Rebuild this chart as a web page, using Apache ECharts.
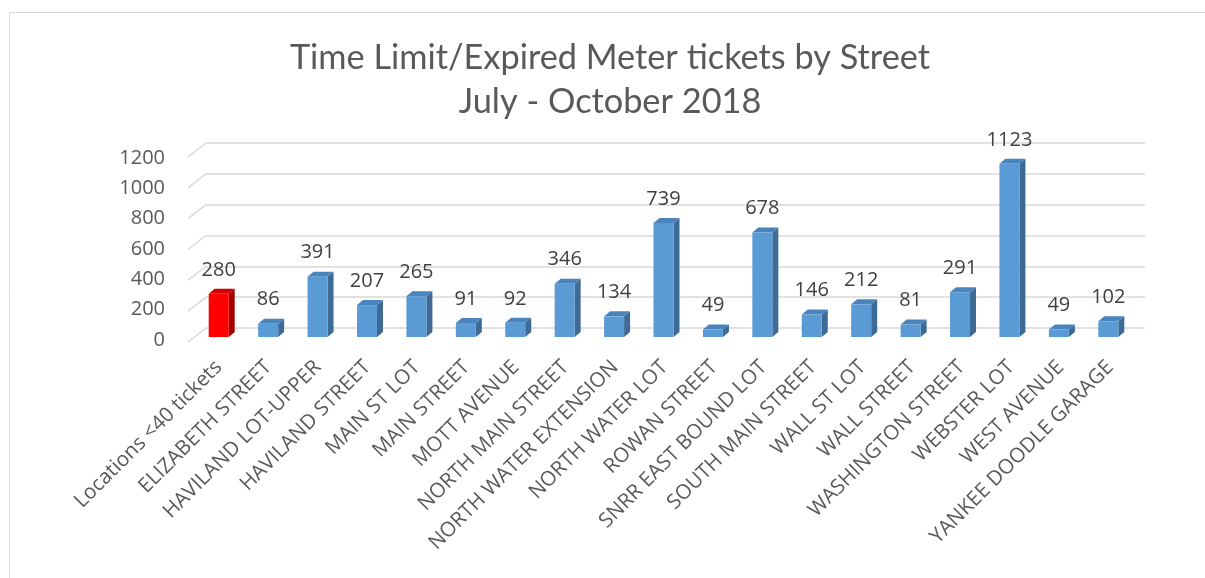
<!DOCTYPE html>
<html>
<head>
<meta charset="utf-8">
<script src="https://cdn.jsdelivr.net/npm/echarts@6/dist/echarts.min.js"></script>
<style>
  html, body { margin: 0; padding: 0; background: #fff; }
  #chart { width: 1205px; height: 578px; }
</style>
</head>
<body>
<div id="chart"></div>
<script>
const streets = [
    'Locations <40 tickets', 'ELIZABETH STREET', 'HAVILAND LOT-UPPER', 'HAVILAND STREET',
    'MAIN ST LOT', 'MAIN STREET', 'MOTT AVENUE', 'NORTH MAIN STREET',
    'NORTH WATER EXTENSION', 'NORTH WATER LOT', 'ROWAN STREET', 'SNRR EAST BOUND LOT',
    'SOUTH MAIN STREET', 'WALL ST LOT', 'WALL STREET', 'WASHINGTON STREET',
    'WEBSTER LOT', 'WEST AVENUE', 'YANKEE DOODLE GARAGE'
];
const tickets = [280, 86, 391, 207, 265, 91, 92, 346, 134, 739, 49, 678, 146, 212, 81, 291, 1123, 49, 102];
const yTicks = [0, 200, 400, 600, 800, 1000, 1200];

const titleFont = 'Lato, "Open Sans", sans-serif';
const font = '"Open Sans", sans-serif';
const textColor = '#595959';

// colours for front / side / top faces
const blue = ['#5b9bd5', '#3d6b96', '#4a84bd'];
const red = ['#ff0000', '#a50000', '#d00000'];

// fake 3d: front face is pushed forward/left from the back wall
const offX = -12, offY = 9, depthX = 6, depthY = 5, barW = 20;

function renderBar(params, api) {
    let i = api.value(0);
    let v = api.value(1);
    let top = api.coord([i, v]);
    let base = api.coord([i, 0]);
    let cx = top[0] + offX;
    let yt = top[1] + offY;
    let yb = base[1] + offY;
    let xl = cx - barW / 2, xr = cx + barW / 2;
    let c = i === 0 ? red : blue;
    return {
        type: 'group',
        children: [
            { type: 'polygon', shape: { points: [[xr, yt], [xr, yb], [xr + depthX, yb - depthY], [xr + depthX, yt - depthY]] }, style: { fill: c[1] } },
            { type: 'polygon', shape: { points: [[xl, yt], [xr, yt], [xr + depthX, yt - depthY], [xl + depthX, yt - depthY]] }, style: { fill: c[2] } },
            { type: 'rect', shape: { x: xl, y: yt, width: barW, height: yb - yt }, style: { fill: c[0] } },
            { type: 'text', x: cx, y: yt - 24, style: { text: String(v), fill: '#404040', font: '20px ' + font, align: 'center', verticalAlign: 'middle' } }
        ]
    };
}

function renderStub(params, api) {
    let y = api.coord([0, api.value(0)])[1];
    let x0 = params.coordSys.x;
    return { type: 'line', shape: { x1: x0 - 18, y1: y + 14, x2: x0, y2: y }, style: { stroke: '#d9d9d9', lineWidth: 1.5 } };
}

const chart = echarts.init(document.getElementById('chart'));
chart.setOption({
    animation: false,
    backgroundColor: '#fff',
    title: {
        text: 'Time Limit/Expired Meter tickets by Street\nJuly - October 2018',
        left: 610, top: 36, padding: 0, textAlign: 'center',
        textStyle: { fontFamily: titleFont, fontSize: 34.3, fontWeight: 'normal', color: textColor, lineHeight: 44 }
    },
    graphic: [{ type: 'rect', left: 7, top: 10, shape: { width: 1400, height: 800 }, style: { fill: 'none', stroke: '#d9d9d9', lineWidth: 1 }, z: -1 }],
    grid: [
        { left: 206, right: 60, top: 143, bottom: 250 },
        { left: 194, right: 70, top: 158, bottom: 238 }
    ],
    xAxis: [
        { type: 'category', gridIndex: 0, data: streets, show: false },
        {
            type: 'category', gridIndex: 1, data: streets,
            axisLine: { show: false }, axisTick: { show: false },
            axisLabel: { rotate: 45, interval: 0, margin: 24, color: textColor, fontFamily: font, fontSize: 20.5 }
        }
    ],
    yAxis: [
        {
            type: 'value', gridIndex: 0, min: 0, max: 1200, interval: 200,
            axisLabel: { show: false }, axisLine: { show: false }, axisTick: { show: false },
            splitLine: { lineStyle: { color: '#d9d9d9', width: 1.5 } }
        },
        {
            type: 'value', gridIndex: 1, min: 0, max: 1200, interval: 200,
            axisLine: { show: false }, axisTick: { show: false }, splitLine: { show: false },
            axisLabel: { margin: 29, color: textColor, fontFamily: font, fontSize: 20, formatter: v => String(v) }
        }
    ],
    series: [
        { type: 'custom', xAxisIndex: 0, yAxisIndex: 0, renderItem: renderStub, data: yTicks.map(t => [t]), encode: { y: 0 }, silent: true },
        { type: 'custom', xAxisIndex: 0, yAxisIndex: 0, renderItem: renderBar, data: tickets.map((v, i) => [i, v]), encode: { x: 0, y: 1 } }
    ]
});
</script>
</body>
</html>
